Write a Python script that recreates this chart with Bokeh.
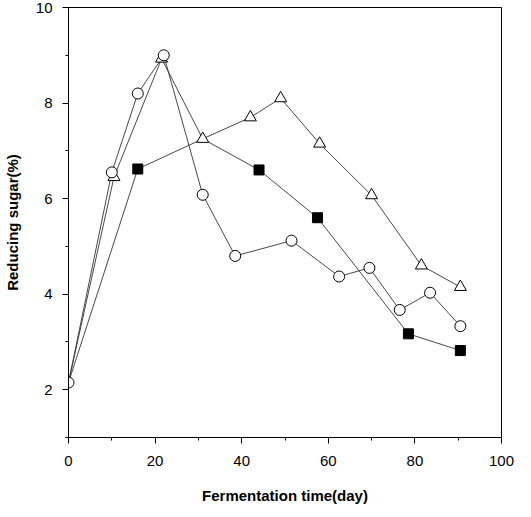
from bokeh.plotting import figure
from bokeh.models import Range1d, FixedTicker
from bokeh.embed import file_html
from bokeh.resources import INLINE

# ---- data ----
start_day = [0]
start_sugar = [2.15]

circle_days = [10, 16, 22, 31, 38.5, 51.5, 62.5, 69.5, 76.5, 83.5, 90.5]
circle_sugar = [6.55, 8.2, 9.0, 6.08, 4.8, 5.12, 4.37, 4.55, 3.67, 4.03, 3.33]

triangle_days = [10.5, 21.5, 31, 42, 49, 58, 70, 81.5, 90.5]
triangle_sugar = [6.45, 8.93, 7.25, 7.7, 8.1, 7.15, 6.07, 4.6, 4.15]

square_days = [16, 31, 44, 57.5, 78.5, 90.5]
square_sugar = [6.62, 7.25, 6.6, 5.6, 3.17, 2.82]

x_ticks = [0, 20, 40, 60, 80, 100]
y_ticks = [2, 4, 6, 8, 10]

FONT = "Liberation Sans"
LINE = "#333333"

p = figure(width=515, height=509, output_backend="svg", toolbar_location=None,
           x_range=Range1d(0, 100), y_range=Range1d(1, 10),
           min_border_left=68, min_border_right=14, min_border_top=7,
           min_border_bottom=72)
p.grid.visible = False
p.outline_line_color = "black"
p.outline_line_width = 1
p.background_fill_color = "white"
p.border_fill_color = "white"

# lines
def full(xs, ys):
    return start_day + list(xs), start_sugar + list(ys)

for xs, ys in [(circle_days, circle_sugar), (triangle_days, triangle_sugar),
               (square_days, square_sugar)]:
    fx, fy = full(xs, ys)
    p.line(fx, fy, line_color=LINE, line_width=0.9)

# square markers (skip squares hidden under a triangle marker)
sq_x, sq_y = [], []
for x, y in zip(square_days, square_sugar):
    hidden = any(abs(x - tx) < 1 and abs(y - ty) < 0.1
                 for tx, ty in zip(triangle_days, triangle_sugar))
    if not hidden:
        sq_x.append(x)
        sq_y.append(y)
p.scatter(sq_x, sq_y, marker="square", size=10, fill_color="black",
          line_color="black")

p.scatter(triangle_days, triangle_sugar, marker="triangle", size=12,
          fill_color="white", line_color="black", line_width=1)

cx, cy = full(circle_days, circle_sugar)
p.scatter(cx, cy, marker="circle", size=11, fill_color="white",
          line_color="black", line_width=1)

# axes
p.xaxis.ticker = FixedTicker(ticks=x_ticks, minor_ticks=list(range(0, 101, 10)))
p.yaxis.ticker = FixedTicker(ticks=y_ticks, minor_ticks=list(range(1, 11)))

for ax in (p.xaxis[0], p.yaxis[0]):
    ax.axis_line_color = "black"
    ax.major_tick_line_color = "black"
    ax.minor_tick_line_color = "black"
    ax.major_tick_in = 0
    ax.major_tick_out = 6
    ax.minor_tick_in = 0
    ax.minor_tick_out = 3
    ax.major_label_text_font = FONT
    ax.major_label_text_font_size = "15px"
    ax.major_label_text_color = "black"
    ax.axis_label_text_font = FONT
    ax.axis_label_text_font_size = "15px"
    ax.axis_label_text_font_style = "bold"
    ax.axis_label_text_color = "black"

p.xaxis.axis_label = "Fermentation time(day)"
p.yaxis.axis_label = "Reducing sugar(%)"
p.xaxis.major_label_standoff = 12
p.xaxis.axis_label_standoff = 18
p.yaxis.major_label_standoff = 10
p.yaxis.axis_label_standoff = 12

open("out.html", "w").write(file_html(p, INLINE))
